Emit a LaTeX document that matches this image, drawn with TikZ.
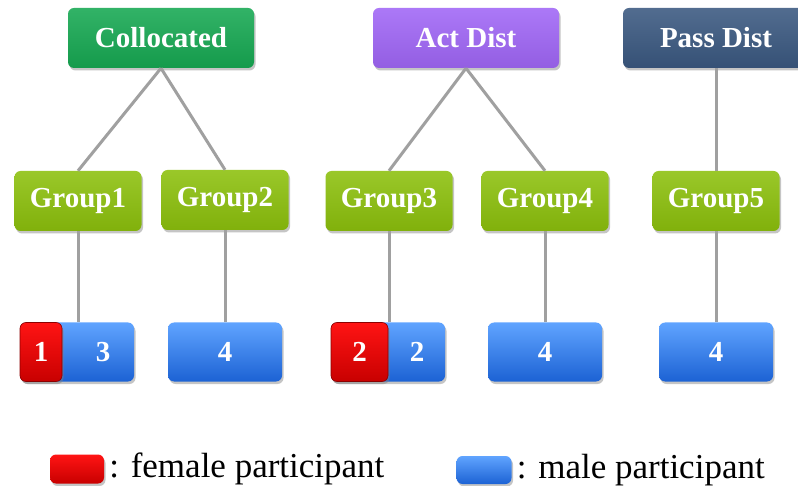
\documentclass[tikz,border=0pt]{standalone}
\usepackage{fontspec}
\setmainfont{Liberation Serif}
\usetikzlibrary{shadows}

\definecolor{collgreen}{RGB}{22,168,82}
\definecolor{actpurple}{RGB}{160,102,246}
\definecolor{passnavy}{RGB}{58,88,128}
\definecolor{grplime}{RGB}{140,192,12}
\definecolor{maletop}{RGB}{96,164,255}
\definecolor{malebot}{RGB}{28,98,212}
\definecolor{femtop}{RGB}{255,20,20}
\definecolor{fembot}{RGB}{200,0,0}
\definecolor{linkgray}{RGB}{160,160,160}

\tikzset{
  box/.style={rounded corners=6pt, inner sep=0pt, text=white,
    font=\fontsize{29}{31}\selectfont\bfseries,
    drop shadow={shadow xshift=1.5pt, shadow yshift=-2.5pt, opacity=0.45}},
  topbox/.style={box, minimum width=186pt, minimum height=60pt},
  grpbox/.style={box, minimum width=127pt, minimum height=60pt,
    top color=grplime!88!white, bottom color=grplime!92!black},
  malebox/.style={box, minimum width=114pt, minimum height=59pt,
    top color=maletop, bottom color=malebot},
  femalebox/.style={box, minimum width=42pt, minimum height=59pt,
    top color=femtop, bottom color=fembot, draw=fembot!70!black, line width=0.6pt},
  count/.style={text=white, inner sep=0pt, font=\fontsize{29}{31}\selectfont\bfseries},
  link/.style={draw=linkgray, line width=3pt},
  legend/.style={anchor=west, inner sep=0pt, font=\fontsize{35}{38}\selectfont}
}

\begin{document}
\begin{tikzpicture}[x=1pt,y=-1pt]
\useasboundingbox (0,0) rectangle (798,486);
\fill[white] (0,0) rectangle (798,486);

% top level
\node[topbox, top color=collgreen!88!white, bottom color=collgreen!92!black] (coll) at (161,38) {Collocated};
\node[topbox, top color=actpurple!88!white, bottom color=actpurple!92!black] (act) at (466,38) {Act Dist};
\node[topbox, top color=passnavy!88!white, bottom color=passnavy!92!black] (pass) at (716,38) {Pass Dist};

% groups
\node[grpbox] (g1) at (78,201) {Group1};
\node[grpbox] (g2) at (225,200) {Group2};
\node[grpbox] (g3) at (389,201) {Group3};
\node[grpbox] (g4) at (545,201) {Group4};
\node[grpbox] (g5) at (716,201) {Group5};

% participants
\node[malebox] (p1) at (77,352) {};
\node[femalebox] (f1) at (41,352) {1};
\node[count] (m1) at (103,352) {3};
\node[malebox] (p2) at (225,352) {4};
\node[malebox] (p3) at (388,352) {};
\node[femalebox, minimum width=57pt] (f3) at (359.5,352) {2};
\node[count] (m3) at (417,352) {2};
\node[malebox] (p4) at (545,352) {4};
\node[malebox] (p5) at (716,352) {4};

% links
\path[link] (coll.south) -- (g1.north);
\path[link] (coll.south) -- (g2.north);
\path[link] (act.south) -- (g3.north);
\path[link] (act.south) -- (g4.north);
\path[link] (pass.south) -- (g5.north);
\path[link] (g1.south) -- (p1.north -| g1.south);
\path[link] (g2.south) -- (p2.north);
\path[link] (g3.south) -- (p3.north -| g3.south);
\path[link] (g4.south) -- (p4.north);
\path[link] (g5.south) -- (p5.north);

% legend
\node[box, minimum width=54pt, minimum height=29pt, top color=femtop, bottom color=fembot] (keyf) at (77,469) {};
\node[legend] (keyftext) at ([xshift=5pt]keyf.east) {: female participant};
\node[box, minimum width=55pt, minimum height=28pt, top color=maletop, bottom color=malebot] (keym) at (484,470) {};
\node[legend] (keymtext) at ([xshift=5pt]keym.east) {: male participant};
\end{tikzpicture}
\end{document}
